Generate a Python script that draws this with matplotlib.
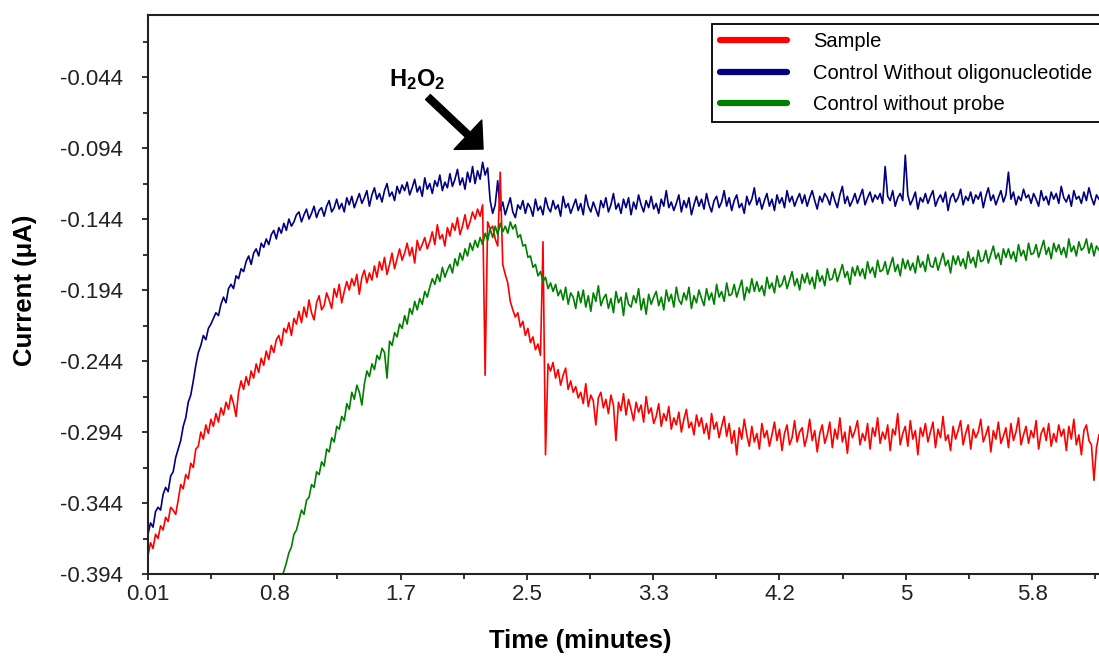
# amperometric response after H2O2 addition
import numpy as np
import matplotlib.pyplot as plt
from matplotlib.lines import Line2D

plt.rcParams["font.family"] = ["Liberation Sans", "DejaVu Sans"]
plt.rcParams["mathtext.fontset"] = "custom"
plt.rcParams["mathtext.rm"] = "Liberation Sans"
plt.rcParams["mathtext.bf"] = "Liberation Sans:bold"

t_start, t_end = 0.01, 6.26
t_green_start = 0.87

sample = [
    -0.381, -0.372, -0.376, -0.366, -0.369, -0.360, -0.363, -0.354, -0.357, -0.347,
    -0.349, -0.352, -0.342, -0.331, -0.334, -0.324, -0.327, -0.316, -0.319, -0.306,
    -0.304, -0.294, -0.299, -0.289, -0.295, -0.285, -0.290, -0.281, -0.287, -0.277,
    -0.282, -0.273, -0.278, -0.268, -0.274, -0.283, -0.266, -0.258, -0.264, -0.255,
    -0.261, -0.251, -0.256, -0.246, -0.252, -0.242, -0.247, -0.237, -0.243, -0.233,
    -0.238, -0.229, -0.226, -0.233, -0.221, -0.224, -0.217, -0.226, -0.214, -0.218,
    -0.209, -0.217, -0.206, -0.213, -0.201, -0.210, -0.215, -0.203, -0.198, -0.208,
    -0.205, -0.196, -0.201, -0.207, -0.193, -0.199, -0.190, -0.203, -0.195, -0.188,
    -0.194, -0.186, -0.191, -0.183, -0.197, -0.185, -0.180, -0.189, -0.182, -0.187,
    -0.177, -0.185, -0.174, -0.180, -0.171, -0.183, -0.176, -0.168, -0.179, -0.172,
    -0.165, -0.173, -0.168, -0.161, -0.170, -0.164, -0.175, -0.159, -0.166, -0.162,
    -0.157, -0.165, -0.160, -0.153, -0.162, -0.148, -0.158, -0.155, -0.163, -0.150,
    -0.156, -0.147, -0.152, -0.143, -0.155, -0.149, -0.141, -0.151, -0.146, -0.139,
    -0.144, -0.137, -0.142, -0.134, -0.254, -0.146, -0.151, -0.149, -0.158, -0.163,
    -0.111, -0.176, -0.183, -0.189, -0.202, -0.208, -0.213, -0.210, -0.220, -0.216,
    -0.226, -0.221, -0.231, -0.227, -0.236, -0.232, -0.240, -0.160, -0.310, -0.246,
    -0.251, -0.245, -0.256, -0.250, -0.261, -0.254, -0.249, -0.264, -0.258, -0.266,
    -0.262, -0.270, -0.266, -0.274, -0.260, -0.276, -0.268, -0.272, -0.289, -0.270,
    -0.266, -0.277, -0.271, -0.281, -0.268, -0.275, -0.300, -0.273, -0.279, -0.267,
    -0.282, -0.271, -0.278, -0.286, -0.273, -0.280, -0.275, -0.287, -0.269, -0.281,
    -0.277, -0.288, -0.283, -0.274, -0.290, -0.281, -0.286, -0.276, -0.292, -0.284,
    -0.289, -0.280, -0.294, -0.285, -0.278, -0.291, -0.287, -0.296, -0.282, -0.290,
    -0.284, -0.295, -0.288, -0.299, -0.281, -0.292, -0.287, -0.298, -0.290, -0.283,
    -0.297, -0.288, -0.302, -0.293, -0.310, -0.291, -0.299, -0.285, -0.296, -0.304,
    -0.290, -0.301, -0.295, -0.306, -0.288, -0.298, -0.293, -0.304, -0.296, -0.287,
    -0.300, -0.292, -0.307, -0.295, -0.289, -0.303, -0.298, -0.286, -0.301, -0.294,
    -0.291, -0.304, -0.297, -0.285, -0.300, -0.293, -0.308, -0.295, -0.289, -0.302,
    -0.296, -0.287, -0.305, -0.292, -0.299, -0.284, -0.301, -0.294, -0.309, -0.290,
    -0.298, -0.293, -0.286, -0.303, -0.295, -0.300, -0.288, -0.306, -0.291, -0.297,
    -0.284, -0.302, -0.294, -0.299, -0.289, -0.307, -0.292, -0.296, -0.281, -0.303,
    -0.295, -0.290, -0.304, -0.286, -0.299, -0.293, -0.310, -0.291, -0.297, -0.288,
    -0.301, -0.294, -0.287, -0.305, -0.292, -0.298, -0.283, -0.300, -0.296, -0.307,
    -0.290, -0.299, -0.293, -0.286, -0.303, -0.295, -0.289, -0.306, -0.292, -0.298,
    -0.294, -0.285, -0.301, -0.296, -0.290, -0.308, -0.293, -0.299, -0.287, -0.302,
    -0.297, -0.291, -0.305, -0.288, -0.300, -0.294, -0.284, -0.303, -0.296, -0.290,
    -0.302, -0.293, -0.298, -0.286, -0.306, -0.295, -0.291, -0.300, -0.288, -0.304,
    -0.295, -0.301, -0.289, -0.297, -0.292, -0.307, -0.290, -0.299, -0.285, -0.303,
    -0.296, -0.310, -0.293, -0.289, -0.300, -0.303, -0.328, -0.305, -0.296,
]

no_oligo = [
    -0.366, -0.358, -0.361, -0.350, -0.347, -0.349, -0.338, -0.333, -0.336, -0.325,
    -0.322, -0.312, -0.306, -0.300, -0.290, -0.284, -0.273, -0.268, -0.258, -0.247,
    -0.238, -0.233, -0.226, -0.229, -0.221, -0.218, -0.214, -0.210, -0.212, -0.204,
    -0.199, -0.203, -0.193, -0.190, -0.193, -0.184, -0.186, -0.179, -0.181, -0.174,
    -0.170, -0.176, -0.168, -0.165, -0.170, -0.161, -0.164, -0.158, -0.162, -0.155,
    -0.152, -0.158, -0.150, -0.154, -0.147, -0.152, -0.144, -0.149, -0.146, -0.141,
    -0.139, -0.146, -0.141, -0.137, -0.144, -0.140, -0.135, -0.143, -0.138, -0.136,
    -0.142, -0.135, -0.131, -0.139, -0.136, -0.130, -0.137, -0.133, -0.139, -0.129,
    -0.134, -0.128, -0.136, -0.131, -0.126, -0.133, -0.129, -0.124, -0.135, -0.127,
    -0.122, -0.130, -0.126, -0.132, -0.124, -0.119, -0.128, -0.125, -0.131, -0.121,
    -0.126, -0.120, -0.124, -0.118, -0.127, -0.122, -0.116, -0.125, -0.121, -0.128,
    -0.115, -0.123, -0.119, -0.126, -0.117, -0.121, -0.113, -0.124, -0.118, -0.122,
    -0.112, -0.121, -0.116, -0.109, -0.120, -0.115, -0.123, -0.111, -0.118, -0.107,
    -0.119, -0.110, -0.116, -0.104, -0.113, -0.108, -0.131, -0.140, -0.134, -0.117,
    -0.138, -0.132, -0.141, -0.135, -0.129, -0.139, -0.143, -0.134, -0.137, -0.131,
    -0.140, -0.133, -0.136, -0.142, -0.130, -0.138, -0.135, -0.141, -0.129, -0.136,
    -0.139, -0.131, -0.137, -0.134, -0.142, -0.128, -0.136, -0.133, -0.140, -0.135,
    -0.130, -0.138, -0.133, -0.141, -0.127, -0.135, -0.139, -0.132, -0.137, -0.142,
    -0.131, -0.136, -0.129, -0.139, -0.134, -0.126, -0.137, -0.133, -0.140, -0.130,
    -0.136, -0.129, -0.141, -0.132, -0.137, -0.127, -0.134, -0.139, -0.131, -0.136,
    -0.128, -0.137, -0.133, -0.140, -0.130, -0.135, -0.124, -0.136, -0.132, -0.138,
    -0.133, -0.127, -0.139, -0.131, -0.136, -0.129, -0.141, -0.134, -0.128, -0.135,
    -0.130, -0.137, -0.126, -0.134, -0.139, -0.131, -0.128, -0.136, -0.132, -0.124,
    -0.135, -0.129, -0.138, -0.131, -0.127, -0.136, -0.133, -0.140, -0.128, -0.134,
    -0.130, -0.122, -0.134, -0.129, -0.137, -0.131, -0.126, -0.135, -0.130, -0.138,
    -0.127, -0.133, -0.129, -0.136, -0.124, -0.132, -0.128, -0.135, -0.130, -0.126,
    -0.133, -0.127, -0.135, -0.129, -0.124, -0.131, -0.137, -0.128, -0.132, -0.126,
    -0.129, -0.134, -0.125, -0.131, -0.136, -0.127, -0.121, -0.133, -0.128, -0.135,
    -0.131, -0.126, -0.133, -0.128, -0.123, -0.134, -0.129, -0.125, -0.132, -0.127,
    -0.130, -0.126, -0.133, -0.107, -0.128, -0.131, -0.124, -0.135, -0.129, -0.126,
    -0.131, -0.099, -0.127, -0.134, -0.130, -0.125, -0.137, -0.129, -0.132, -0.126,
    -0.133, -0.128, -0.124, -0.135, -0.130, -0.127, -0.132, -0.125, -0.138, -0.129,
    -0.126, -0.132, -0.129, -0.123, -0.134, -0.128, -0.131, -0.125, -0.133, -0.127,
    -0.130, -0.125, -0.136, -0.128, -0.122, -0.131, -0.127, -0.134, -0.129, -0.124,
    -0.132, -0.127, -0.111, -0.130, -0.125, -0.134, -0.128, -0.131, -0.123, -0.129,
    -0.127, -0.133, -0.126, -0.130, -0.135, -0.124, -0.131, -0.128, -0.134, -0.125,
    -0.130, -0.126, -0.133, -0.121, -0.129, -0.132, -0.127, -0.135, -0.124, -0.130,
    -0.128, -0.133, -0.125, -0.131, -0.122, -0.129, -0.134, -0.127, -0.130,
]

no_probe = [
    -0.405, -0.397, -0.392, -0.386, -0.379, -0.375, -0.366, -0.363, -0.356, -0.349,
    -0.352, -0.342, -0.340, -0.331, -0.333, -0.322, -0.324, -0.315, -0.318, -0.306,
    -0.308, -0.298, -0.301, -0.290, -0.292, -0.283, -0.286, -0.274, -0.278, -0.266,
    -0.271, -0.261, -0.266, -0.275, -0.260, -0.251, -0.255, -0.246, -0.250, -0.240,
    -0.243, -0.235, -0.238, -0.256, -0.230, -0.233, -0.224, -0.227, -0.218, -0.221,
    -0.212, -0.218, -0.207, -0.211, -0.202, -0.208, -0.200, -0.204, -0.195, -0.199,
    -0.192, -0.186, -0.190, -0.183, -0.188, -0.178, -0.185, -0.180, -0.176, -0.182,
    -0.172, -0.177, -0.168, -0.173, -0.165, -0.170, -0.161, -0.166, -0.159, -0.164,
    -0.157, -0.162, -0.154, -0.159, -0.151, -0.157, -0.149, -0.155, -0.147, -0.153,
    -0.149, -0.154, -0.146, -0.151, -0.148, -0.157, -0.155, -0.163, -0.162, -0.171,
    -0.170, -0.178, -0.176, -0.184, -0.181, -0.188, -0.185, -0.193, -0.189, -0.195,
    -0.190, -0.198, -0.194, -0.201, -0.192, -0.204, -0.196, -0.199, -0.207, -0.195,
    -0.203, -0.194, -0.206, -0.198, -0.209, -0.196, -0.202, -0.191, -0.205, -0.200,
    -0.197, -0.207, -0.200, -0.210, -0.195, -0.203, -0.199, -0.212, -0.196, -0.204,
    -0.206, -0.198, -0.203, -0.193, -0.208, -0.200, -0.211, -0.197, -0.204, -0.199,
    -0.195, -0.205, -0.199, -0.208, -0.194, -0.202, -0.197, -0.206, -0.192, -0.201,
    -0.204, -0.196, -0.201, -0.192, -0.207, -0.198, -0.203, -0.194, -0.200, -0.205,
    -0.193, -0.201, -0.196, -0.204, -0.190, -0.199, -0.195, -0.202, -0.189, -0.198,
    -0.197, -0.190, -0.199, -0.193, -0.187, -0.201, -0.192, -0.196, -0.186, -0.195,
    -0.188, -0.195, -0.191, -0.198, -0.185, -0.193, -0.189, -0.196, -0.184, -0.192,
    -0.190, -0.184, -0.193, -0.187, -0.181, -0.191, -0.186, -0.194, -0.183, -0.189,
    -0.182, -0.190, -0.185, -0.193, -0.180, -0.188, -0.184, -0.191, -0.179, -0.187,
    -0.186, -0.179, -0.188, -0.182, -0.176, -0.185, -0.181, -0.190, -0.178, -0.184,
    -0.177, -0.184, -0.179, -0.186, -0.174, -0.182, -0.178, -0.185, -0.173, -0.181,
    -0.180, -0.174, -0.183, -0.177, -0.171, -0.181, -0.176, -0.184, -0.172, -0.179,
    -0.173, -0.180, -0.175, -0.182, -0.170, -0.178, -0.174, -0.181, -0.169, -0.177,
    -0.178, -0.171, -0.180, -0.174, -0.168, -0.177, -0.173, -0.182, -0.170, -0.176,
    -0.170, -0.177, -0.172, -0.179, -0.167, -0.175, -0.171, -0.178, -0.166, -0.174,
    -0.173, -0.166, -0.175, -0.169, -0.163, -0.172, -0.168, -0.176, -0.165, -0.171,
    -0.165, -0.172, -0.167, -0.174, -0.162, -0.170, -0.166, -0.173, -0.161, -0.169,
    -0.168, -0.162, -0.171, -0.165, -0.159, -0.169, -0.164, -0.172, -0.161, -0.167,
    -0.162, -0.169, -0.164, -0.171, -0.158, -0.167, -0.163, -0.170, -0.160, -0.166,
    -0.164, -0.158, -0.168, -0.161, -0.170, -0.163, -0.166,
]

x_ticks = [0.01, 0.84, 1.67, 2.50, 3.33, 4.16, 4.99, 5.82]
x_labels = ["0.01", "0.8", "1.7", "2.5", "3.3", "4.2", "5", "5.8"]
y_ticks = [-0.394, -0.344, -0.294, -0.244, -0.194, -0.144, -0.094, -0.044]
y_labels = ["-0.394", "-0.344", "-0.294", "-0.244", "-0.194", "-0.144", "-0.094", "-0.044"]

t_main = np.linspace(t_start, t_end, len(sample))
t_blue = np.linspace(t_start, t_end, len(no_oligo))
t_green = np.linspace(t_green_start, t_end, len(no_probe))

fig = plt.figure(figsize=(10.99, 6.57), dpi=100)
ax = fig.add_axes([148 / 1099, 83 / 657, 1 - 148 / 1099, 559 / 657])

ax.plot(t_blue, no_oligo, color="#000080", lw=1.2)
ax.plot(t_main, sample, color="#ff0000", lw=1.2)
ax.plot(t_green, no_probe, color="#008000", lw=1.2)

ax.set_xlim(t_start, t_end)
ax.set_ylim(-0.394, -0.0003)
ax.set_xticks(x_ticks)
ax.set_xticklabels(x_labels)
ax.set_yticks(y_ticks)
ax.set_yticklabels(y_labels)
ax.set_xticks([(a + b) / 2 for a, b in zip(x_ticks[:-1], x_ticks[1:])] + [6.235], minor=True)
ax.set_yticks([v + 0.025 for v in y_ticks], minor=True)
ax.tick_params(which="both", direction="out", width=1.3, colors="#222222", labelsize=16)
ax.tick_params(which="major", length=4)
ax.tick_params(which="minor", length=3.5)
ax.tick_params(axis="x", pad=3)
ax.tick_params(axis="y", pad=14)
for side in ["left", "bottom", "top"]:
    ax.spines[side].set_linewidth(1.5)
    ax.spines[side].set_color("#222222")
ax.spines["right"].set_visible(False)

fig.text(25 / 1099, 1 - 290 / 657, "Current (μA)", rotation=90, ha="center", va="center",
         fontsize=18.5, fontweight="bold")
fig.text(580 / 1099, 1 - 641 / 657, "Time (minutes)", ha="center", va="center",
         fontsize=18.5, fontweight="bold")

ax.annotate("", xy=(2.212, -0.0947), xytext=(1.85, -0.0581),
            arrowprops=dict(width=5, headwidth=29, headlength=15, shrink=0,
                            facecolor="black", edgecolor="black"))
ax.text(1.78, -0.046, r"$\mathbf{H_2O_2}$", fontsize=17, ha="center", va="center")

handles = [
    Line2D([], [], color="#ff0000", lw=4.5, solid_capstyle="round"),
    Line2D([], [], color="#000080", lw=4.5, solid_capstyle="round"),
    Line2D([], [], color="#008000", lw=4.5, solid_capstyle="round"),
]
names = ["Sample", "Control Without oligonucleotide", "Control without probe"]
leg = ax.legend(handles, names, loc="upper left", bbox_to_anchor=(712 / 1099, 1 - 24 / 657),
                bbox_transform=fig.transFigure, fontsize=14.5, frameon=True, fancybox=False,
                framealpha=1, edgecolor="black", handlelength=3.3, handletextpad=1.3,
                labelspacing=0.63, borderpad=0.4, borderaxespad=0)
leg.get_frame().set_linewidth(1.3)

fig.savefig("out.png", dpi=100)
